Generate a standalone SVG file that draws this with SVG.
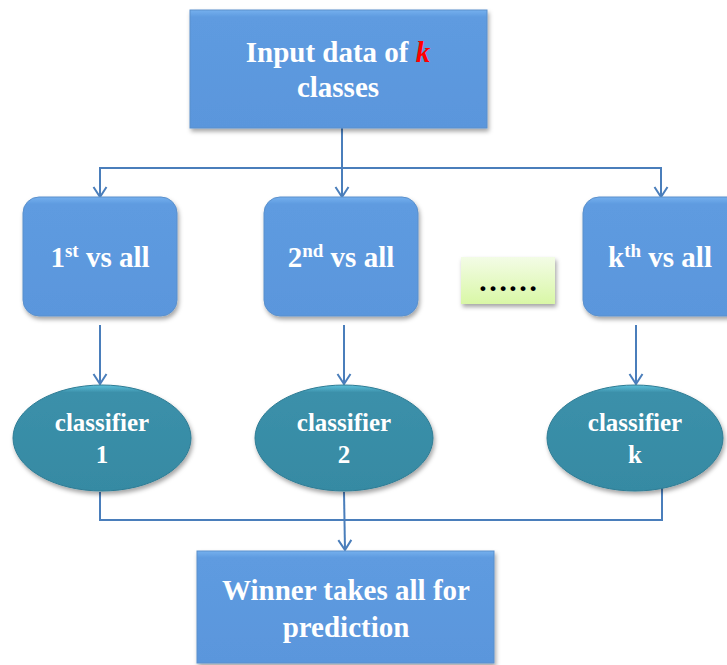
<svg xmlns="http://www.w3.org/2000/svg" width="727" height="665" viewBox="0 0 727 665">
  <defs>
    <linearGradient id="blueFill" x1="0" y1="0" x2="0" y2="1">
      <stop offset="0" stop-color="#75b0ee"/>
      <stop offset="0.06" stop-color="#5e9be0"/>
      <stop offset="1" stop-color="#5a96dc"/>
    </linearGradient>
    <linearGradient id="tealFill" x1="0" y1="0" x2="0" y2="1">
      <stop offset="0" stop-color="#5cc0da"/>
      <stop offset="0.07" stop-color="#3b90aa"/>
      <stop offset="1" stop-color="#368aa3"/>
    </linearGradient>
    <linearGradient id="greenFill" x1="0" y1="0" x2="0" y2="1">
      <stop offset="0" stop-color="#f3fce6"/>
      <stop offset="1" stop-color="#d9f7a6"/>
    </linearGradient>
    <filter id="shadow" x="-10%" y="-10%" width="125%" height="130%">
      <feDropShadow dx="1.5" dy="3" stdDeviation="2" flood-color="#000" flood-opacity="0.35"/>
    </filter>
    <!-- open chevron arrowhead, drawn along +x so orient="auto" points it down the line -->
    <marker id="arrow" viewBox="0 0 12 16" refX="11" refY="8" markerWidth="12" markerHeight="16" markerUnits="userSpaceOnUse" orient="auto-start-reverse">
      <path d="M1,1.5 L11,8 L1,14.5" fill="none" stroke="#4a7ebb" stroke-width="2"/>
    </marker>
    <style>
      .conn { fill: none; stroke: #4a7ebb; stroke-width: 2; }
      .box { fill: url(#blueFill); stroke: #5a90cc; stroke-width: 1; filter: url(#shadow); }
      .oval { fill: url(#tealFill); stroke: #2f7c94; stroke-width: 1; filter: url(#shadow); }
      text { font-family: "Liberation Serif", "DejaVu Serif", "Times New Roman", serif; }
      .lbl { font-weight: bold; fill: #ffffff; text-anchor: middle; }
      .big { font-size: 29px; }
      .mid { font-size: 25px; }
    </style>
  </defs>

  <!-- connectors -->
  <g id="connectors">
    <line class="conn" x1="342" y1="128" x2="342" y2="197" marker-end="url(#arrow)"/>
    <path class="conn" d="M100,197 L100,168 L661,168 L661,197" marker-start="url(#arrow)" marker-end="url(#arrow)"/>
    <line class="conn" x1="100" y1="325" x2="100" y2="384" marker-end="url(#arrow)"/>
    <line class="conn" x1="344" y1="325" x2="344" y2="384" marker-end="url(#arrow)"/>
    <line class="conn" x1="636" y1="325" x2="636" y2="384" marker-end="url(#arrow)"/>
    <path class="conn" d="M100,492 L100,520 L662,520 L662,488"/>
    <line class="conn" x1="344" y1="492" x2="345" y2="550" marker-end="url(#arrow)"/>
  </g>

  <!-- input node -->
  <g id="input">
    <rect class="box" x="190" y="10" width="297" height="118"/>
    <text class="lbl big" x="338" y="62">Input data of <tspan fill="#ff0000" font-style="italic">k</tspan></text>
    <text class="lbl big" x="338" y="97">classes</text>
  </g>

  <!-- one-vs-all splits -->
  <g id="split1">
    <rect class="box" x="23" y="197" width="154" height="119" rx="16"/>
    <text class="lbl big" x="100" y="267">1<tspan font-size="19" dy="-10">st</tspan><tspan dy="10"> vs all</tspan></text>
  </g>
  <g id="split2">
    <rect class="box" x="264" y="197" width="154" height="119" rx="16"/>
    <text class="lbl big" x="341" y="267">2<tspan font-size="19" dy="-10">nd</tspan><tspan dy="10"> vs all</tspan></text>
  </g>
  <g id="ellipsis">
    <rect x="461" y="257" width="94" height="47" fill="url(#greenFill)" filter="url(#shadow)"/>
    <text x="508" y="291" font-weight="bold" font-size="30" fill="#000" text-anchor="middle">……</text>
  </g>
  <g id="splitk">
    <rect class="box" x="583" y="197" width="160" height="119" rx="16"/>
    <text class="lbl big" x="660" y="267">k<tspan font-size="19" dy="-10">th</tspan><tspan dy="10"> vs all</tspan></text>
  </g>

  <!-- classifiers -->
  <g id="classifier1">
    <ellipse class="oval" cx="102" cy="438" rx="89" ry="53"/>
    <text class="lbl mid" x="102" y="431">classifier</text>
    <text class="lbl mid" x="102" y="463">1</text>
  </g>
  <g id="classifier2">
    <ellipse class="oval" cx="344" cy="438" rx="89" ry="53"/>
    <text class="lbl mid" x="344" y="431">classifier</text>
    <text class="lbl mid" x="344" y="463">2</text>
  </g>
  <g id="classifierk">
    <ellipse class="oval" cx="635" cy="438" rx="88" ry="53"/>
    <text class="lbl mid" x="635" y="431">classifier</text>
    <text class="lbl mid" x="635" y="463">k</text>
  </g>

  <!-- output node -->
  <g id="winner">
    <rect class="box" x="197" y="551" width="297" height="112"/>
    <text class="lbl big" x="346" y="600">Winner takes all for</text>
    <text class="lbl big" x="346" y="637">prediction</text>
  </g>
</svg>
